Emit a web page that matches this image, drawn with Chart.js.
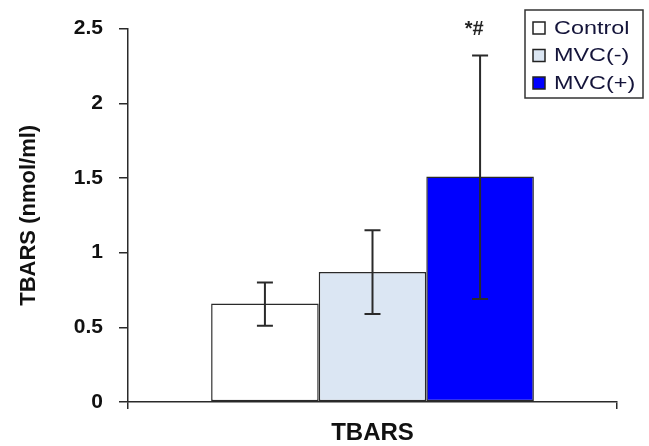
<!DOCTYPE html>
<html>
<head>
<meta charset="utf-8">
<script src="https://cdn.jsdelivr.net/npm/chart.js@4"></script>
<style>
  html, body { margin: 0; padding: 0; background: #fff; }
  #wrap { width: 649px; height: 446px; }
</style>
</head>
<body>
<div id="wrap"><canvas id="tbarsChart" width="649" height="446"></canvas></div>
<script>
const categories = ['TBARS'];
const groups = ['Control', 'MVC(-)', 'MVC(+)'];
const means = [0.66, 0.87, 1.51];
const errLow = [0.51, 0.59, 0.69];
const errHigh = [0.80, 1.15, 2.32];
const yTicks = [0, 0.5, 1, 1.5, 2, 2.5];
const marks = ['', '', '*#'];

const fills = ['#ffffff', '#dbe6f3', '#0000ff'];
const FONT = 'Arial, "Liberation Sans", sans-serif';

// error bars, significance marks and the boxed legend
const extras = {
  id: 'extras',
  afterDatasetsDraw(chart) {
    const ctx = chart.ctx;
    const y = chart.scales.y;
    ctx.save();
    chart.data.datasets.forEach((ds, i) => {
      const bar = chart.getDatasetMeta(i).data[0];
      const x = bar.x;
      const top = y.getPixelForValue(errHigh[i]);
      const bot = y.getPixelForValue(errLow[i]);
      ctx.strokeStyle = '#2a2a2a';
      ctx.lineWidth = 2;
      ctx.beginPath();
      ctx.moveTo(x, top); ctx.lineTo(x, bot);
      ctx.moveTo(x - 8, top); ctx.lineTo(x + 8, top);
      ctx.moveTo(x - 8, bot); ctx.lineTo(x + 8, bot);
      ctx.stroke();
      if (marks[i]) {
        ctx.fillStyle = '#222';
        ctx.font = 'bold 20px ' + FONT;
        ctx.textAlign = 'center';
        ctx.textBaseline = 'bottom';
        ctx.fillText(marks[i], x - 6, top - 16);
      }
    });

    // legend
    const lx = 525, ly = 10, lw = 118, lh = 88;
    ctx.fillStyle = '#fff';
    ctx.fillRect(lx, ly, lw, lh);
    ctx.strokeStyle = '#333';
    ctx.lineWidth = 1.5;
    ctx.strokeRect(lx, ly, lw, lh);
    ctx.font = '18px ' + FONT;
    ctx.textAlign = 'left';
    ctx.textBaseline = 'middle';
    groups.forEach((g, i) => {
      const cy = ly + 18 + i * 27.5;
      ctx.fillStyle = fills[i];
      ctx.fillRect(533, cy - 6, 12, 12);
      ctx.strokeStyle = '#222';
      ctx.lineWidth = 1.5;
      ctx.strokeRect(533, cy - 6, 12, 12);
      ctx.fillStyle = '#14143a';
      // source text looks horizontally stretched
      ctx.save();
      ctx.translate(554, cy + 1);
      ctx.scale(1.3, 1);
      ctx.fillText(g, 0, 0);
      ctx.restore();
    });
    ctx.restore();
  }
};

new Chart(document.getElementById('tbarsChart'), {
  type: 'bar',
  data: {
    labels: categories,
    datasets: groups.map((g, i) => ({
      label: g,
      data: [means[i]],
      backgroundColor: fills[i],
      borderColor: '#2a2a2a',
      borderWidth: 1.5,
      borderSkipped: false,
      barPercentage: 1,
      categoryPercentage: 0.66
    }))
  },
  options: {
    responsive: false,
    animation: false,
    layout: { padding: { top: 24, right: 32, left: 0, bottom: 0 } },
    plugins: {
      legend: { display: false },
      tooltip: { enabled: false }
    },
    scales: {
      x: {
        afterFit: (s) => { s.height = 44; },
        border: { display: true, color: '#2a2a2a', width: 1.5 },
        grid: { drawOnChartArea: false, drawTicks: true, tickLength: 7, color: '#2a2a2a', lineWidth: 1.5 },
        ticks: { display: false },
        title: {
          display: true,
          text: 'TBARS',
          color: '#111',
          font: { family: FONT, size: 24, weight: 'bold' },
          padding: { top: 0, bottom: -2 }
        }
      },
      y: {
        min: 0,
        max: 2.5,
        afterFit: (s) => { s.width = 128; },
        afterBuildTicks: (s) => { s.ticks = yTicks.map(v => ({ value: v })); },
        border: { display: true, color: '#2a2a2a', width: 1.5 },
        grid: { drawOnChartArea: false, drawTicks: true, tickLength: 9, color: '#2a2a2a', lineWidth: 1.5 },
        ticks: {
          color: '#111',
          padding: 16,
          font: { family: FONT, size: 21, weight: 'bold' },
          callback: (v) => String(v)
        },
        title: {
          display: true,
          text: 'TBARS (nmol/ml)',
          color: '#111',
          font: { family: FONT, size: 22, weight: 'bold' },
          padding: { top: 16, bottom: 0 }
        }
      }
    }
  },
  plugins: [extras]
});
</script>
</body>
</html>
